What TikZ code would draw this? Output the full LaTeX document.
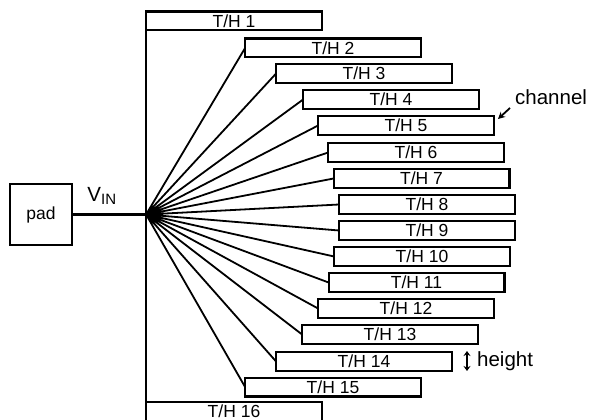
\documentclass[tikz,border=0pt]{standalone}
\usepackage{fontspec}
\setmainfont{Liberation Sans}
\usetikzlibrary{positioning, arrows.meta}
\tikzset{
  thbox/.style={draw, line width=2.2pt, outer sep=0pt, inner sep=0pt,
                minimum width=175.8pt, minimum height=18.8pt,
                font=\fontsize{17.5}{19}\selectfont},
  fanline/.style={line width=1.8pt},
  bigtext/.style={font=\fontsize{20.5}{22}\selectfont},
}

\begin{document}
\begin{tikzpicture}[x=1pt, y=-1pt]
        \useasboundingbox (0,0) rectangle (598,420);
        \node[draw, line width=2.2pt, outer sep=0pt, minimum width=61.8pt,
              minimum height=60.8pt, font=\fontsize{17.5}{19}\selectfont]
              (pad) at (41,214.5) {pad};
        \node[thbox] (th1) at (234,21) {T/H 1};
        \node[thbox] (th2) at (333,48) {T/H 2};
        \node[thbox] (th3) at (364,73.5) {T/H 3};
        \node[thbox] (th4) at (391,99.5) {T/H 4};
        \node[thbox] (th5) at (406,125.5) {T/H 5};
        \node[thbox] (th6) at (416,152.5) {T/H 6};
        \node[thbox] (th7) at (421.5,178.5) {T/H 7};
        \node[thbox] (th8) at (427,204.5) {T/H 8};
        \node[thbox] (th9) at (427,230.5) {T/H 9};
        \node[thbox] (th10) at (422,256.5) {T/H 10};
        \node[thbox] (th11) at (416.5,282.5) {T/H 11};
        \node[thbox] (th12) at (406,308.5) {T/H 12};
        \node[thbox] (th13) at (390,334.5) {T/H 13};
        \node[thbox] (th14) at (364,361.5) {T/H 14};
        \node[thbox] (th15) at (333,387) {T/H 15};
        \node[thbox] (th16) at (234,411.5) {T/H 16};
        \coordinate (fan) at (th1.west |- pad.east);
        \node[bigtext] (vin) at (102,196)
              {V\textsubscript{\fontsize{15}{16}\selectfont IN}};
        \draw[line width=2.2pt] (pad.east) -- (fan);
        \draw[line width=2.2pt] (th1.south west) -- (th16.north west);
        \draw[fanline] (fan) -- (th2.west) (fan) -- (th3.west)
              (fan) -- (th4.west) (fan) -- (th5.west)
              (fan) -- (th6.west) (fan) -- (th7.west)
              (fan) -- (th8.west) (fan) -- (th9.west)
              (fan) -- (th10.west) (fan) -- (th11.west)
              (fan) -- (th12.west) (fan) -- (th13.west)
              (fan) -- (th14.west) (fan) -- (th15.west);
        % channel label
        \node[bigtext, anchor=west, inner sep=0pt] (channel) at (515,97) {channel};
        \coordinate (chtail) at (510,108);
        \coordinate (chtip) at (498,119);
        \draw[line width=1.8pt, -{Stealth[length=7pt,width=7pt]}] (chtail) -- (chtip);
        % height label
        \coordinate (htop) at (467,351);
        \coordinate (hbot) at (467,371);
        \draw[line width=2pt, {Stealth[length=5pt,width=7pt]}-{Stealth[length=5pt,width=7pt]}]
              (htop) -- (hbot);
        \node[bigtext, anchor=west, inner sep=0pt] (height) at (477,361) {height};
      \end{tikzpicture}
\end{document}
